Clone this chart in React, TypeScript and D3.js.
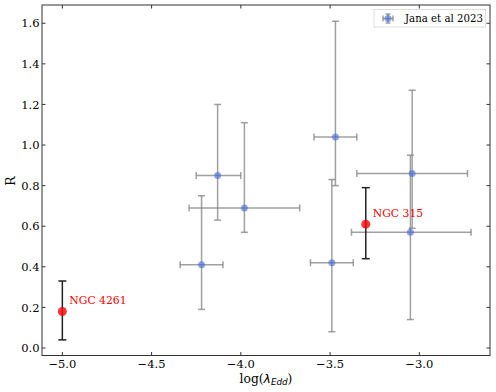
import React from "react";
import * as d3 from "d3";

const blueX = [-4.13, -3.98, -4.22, -3.47, -3.04, -3.05, -3.49];
const blueY = [0.85, 0.69, 0.41, 1.04, 0.86, 0.57, 0.42];
const blueXErrLow = [0.12, 0.31, 0.12, 0.12, 0.31, 0.33, 0.12];
const blueXErrHigh = [0.13, 0.31, 0.12, 0.12, 0.31, 0.34, 0.12];
const blueYErrLow = [0.22, 0.12, 0.22, 0.24, 0.27, 0.43, 0.34];
const blueYErrHigh = [0.35, 0.42, 0.34, 0.57, 0.41, 0.38, 0.41];

const redNames = ["NGC 4261", "NGC 315"];
const redX = [-5.0, -3.3];
const redY = [0.18, 0.61];
const redYErrLow = [0.14, 0.17];
const redYErrHigh = [0.15, 0.18];

const xTicks = [-5.0, -4.5, -4.0, -3.5, -3.0];
const yTicks = [0.0, 0.2, 0.4, 0.6, 0.8, 1.0, 1.2, 1.4, 1.6];
const legendLabel = "Jana et al 2023";

const W = 496, H = 392;
const L = 42, R = 490, T = 5, B = 355.5;
const FONT = "DejaVu Serif";
const TFS = 11.5;

export default function App() {
  const x = d3.scaleLinear().domain([-5.114, -2.604]).range([L, R]);
  const y = d3.scaleLinear().domain([-0.037, 1.69]).range([B, T]);
  const fmt = (v: number) => d3.format(".1f")(v).replace("-", "\u2212");
  const errColor = "rgba(128,128,128,0.75)";
  const cap = 3.5;

  return (
    <svg width={W} height={H} style={{ position: "absolute", left: 0, top: 0, background: "#fff" }}>
      <rect x={0} y={0} width={W} height={H} fill="#fff" />
      {blueX.map((xv, i) => {
        const cx = x(xv), cy = y(blueY[i]);
        const x0 = x(xv - blueXErrLow[i]), x1 = x(xv + blueXErrHigh[i]);
        const y0 = y(blueY[i] - blueYErrLow[i]), y1 = y(blueY[i] + blueYErrHigh[i]);
        return (
          <g key={"be" + i} stroke={errColor} strokeWidth={1.5} fill="none">
            <line x1={x0} x2={x1} y1={cy} y2={cy} />
            <line x1={cx} x2={cx} y1={y0} y2={y1} />
            <line x1={x0} x2={x0} y1={cy - cap} y2={cy + cap} />
            <line x1={x1} x2={x1} y1={cy - cap} y2={cy + cap} />
            <line x1={cx - cap} x2={cx + cap} y1={y0} y2={y0} />
            <line x1={cx - cap} x2={cx + cap} y1={y1} y2={y1} />
          </g>
        );
      })}
      {blueX.map((xv, i) => (
        <circle key={"bp" + i} cx={x(xv)} cy={y(blueY[i])} r={3.5} fill="rgba(65,105,225,0.6)" />
      ))}
      {redX.map((xv, i) => {
        const cx = x(xv);
        const y0 = y(redY[i] - redYErrLow[i]), y1 = y(redY[i] + redYErrHigh[i]);
        return (
          <g key={"r" + i}>
            <g stroke="#222" strokeWidth={1.5}>
              <line x1={cx} x2={cx} y1={y0} y2={y1} />
              <line x1={cx - 4} x2={cx + 4} y1={y0} y2={y0} />
              <line x1={cx - 4} x2={cx + 4} y1={y1} y2={y1} />
            </g>
            <circle cx={cx} cy={y(redY[i])} r={4.5} fill="rgba(255,0,0,0.8)" />
            <text x={cx + 7} y={y(redY[i]) - 7} fill="red" fontFamily={FONT} fontSize={10.8}>
              {redNames[i]}
            </text>
          </g>
        );
      })}
      <rect x={L} y={T} width={R - L} height={B - T} fill="none" stroke="#333" strokeWidth={1} />
      {xTicks.map((t) => (
        <g key={"xt" + t}>
          <line x1={x(t)} x2={x(t)} y1={B} y2={B - 3.5} stroke="#333" />
          <line x1={x(t)} x2={x(t)} y1={T} y2={T + 3.5} stroke="#333" />
          <text x={x(t)} y={B + 12.3} textAnchor="middle" fontFamily={FONT} fontSize={TFS} fill="#000">
            {fmt(t)}
          </text>
        </g>
      ))}
      {yTicks.map((t) => (
        <g key={"yt" + t}>
          <line x1={L} x2={L + 3.5} y1={y(t)} y2={y(t)} stroke="#333" />
          <line x1={R} x2={R - 3.5} y1={y(t)} y2={y(t)} stroke="#333" />
          <text x={L - 2.5} y={y(t) + 4.1} textAnchor="end" fontFamily={FONT} fontSize={TFS} fill="#000">
            {fmt(t)}
          </text>
        </g>
      ))}
      <text x={266} y={382.5} textAnchor="middle" fontFamily={FONT} fontSize={12.3} fill="#000">
        log(<tspan fontFamily="DejaVu Sans" fontStyle="italic">λ</tspan>
        <tspan fontFamily="DejaVu Sans" fontStyle="italic" fontSize={8.8} dy={2.5}>Edd</tspan>
        <tspan dy={-2.5}>)</tspan>
      </text>
      <text transform={`translate(15.3,${181}) rotate(-90)`} textAnchor="middle" fontFamily={FONT} fontSize={12.5} fill="#000">
        R
      </text>
      <g>
        <rect x={374} y={9.5} width={111.5} height={17.5} fill="#fff" stroke="#ddd" strokeWidth={1} />
        <g stroke={errColor} strokeWidth={1.5}>
          <line x1={383} x2={393} y1={18.5} y2={18.5} />
          <line x1={388} x2={388} y1={14} y2={23} />
          <line x1={383} x2={383} y1={15.5} y2={21.5} />
          <line x1={393} x2={393} y1={15.5} y2={21.5} />
          <line x1={385.5} x2={390.5} y1={14} y2={14} />
          <line x1={385.5} x2={390.5} y1={23} y2={23} />
        </g>
        <circle cx={388} cy={18.5} r={3.5} fill="rgba(65,105,225,0.6)" />
        <text x={405} y={22} fontFamily={FONT} fontSize={10.2} fill="#000">{legendLabel}</text>
      </g>
    </svg>
  );
}
